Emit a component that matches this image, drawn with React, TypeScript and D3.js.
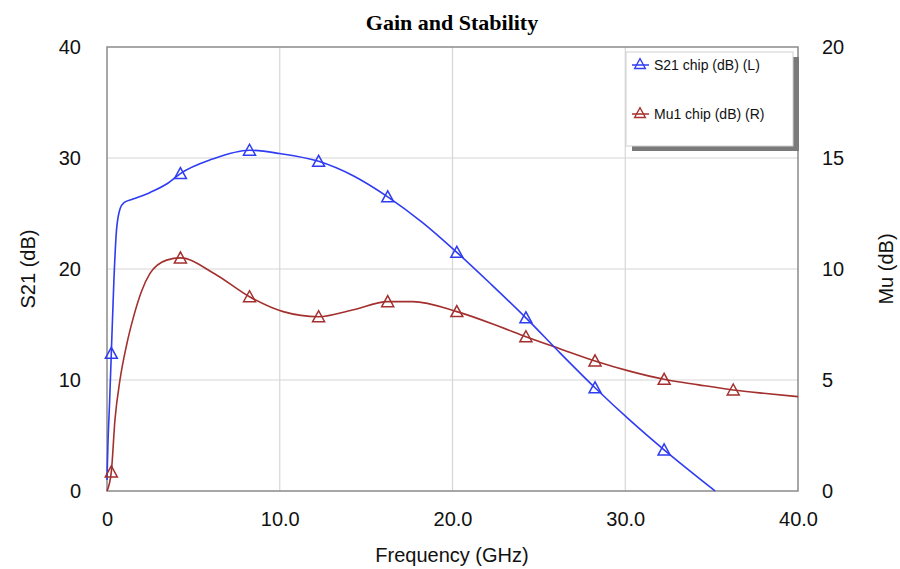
import * as d3 from "d3";
import { useEffect, useRef } from "react";

// S21 chip (dB), left axis
const freqS21 = [0, 0.05, 0.15, 0.25, 0.4, 0.55, 0.75, 1.0, 1.5, 2.5, 3.5, 4.25, 6.1, 8.25, 10, 12.25, 14.25, 16.25, 18.25, 20.25, 22.25, 24.25, 26.25, 28.25, 30.25, 32.25, 35.2];
const s21 = [1.0, 4, 8, 12.4, 19, 23.5, 25.4, 26.0, 26.3, 26.9, 27.7, 28.6, 29.9, 30.7, 30.4, 29.7, 28.4, 26.5, 24.2, 21.5, 18.6, 15.6, 12.4, 9.3, 6.4, 3.7, 0];

// Mu1 chip (dB), right axis
const freqMu = [0, 0.25, 0.46, 0.75, 1.14, 1.52, 2.0, 2.49, 3.45, 4.25, 6.2, 8.25, 10.2, 12.25, 14.2, 16.25, 17.7, 20.25, 22.75, 24.25, 26.25, 28.25, 30.25, 32.25, 34.25, 36.25, 38, 40];
const mu = [0, 0.86, 3.2, 5.0, 6.6, 7.8, 9.0, 9.8, 10.4, 10.5, 9.8, 8.75, 8.08, 7.85, 8.15, 8.53, 8.53, 8.08, 7.4, 6.95, 6.4, 5.86, 5.4, 5.03, 4.78, 4.55, 4.4, 4.25];

const markerFreqs = [0.25, 4.25, 8.25, 12.25, 16.25, 20.25, 24.25, 28.25, 32.25, 36.25];
const xTicks = [0, 10, 20, 30, 40];
const leftTicks = [0, 10, 20, 30, 40];
const rightTicks = [0, 5, 10, 15, 20];

const blue = "#2f3cf2";
const red = "#a3302e";
const tri = "M-6,5L0,-6L6,5Z";

export default function App() {
  const ref = useRef<SVGSVGElement>(null);

  useEffect(() => {
    const svg = d3.select(ref.current);
    svg.selectAll("*").remove();

    const x = d3.scaleLinear().domain([0, 40]).range([107, 798]);
    const yL = d3.scaleLinear().domain([0, 40]).range([491, 47]);
    const yR = d3.scaleLinear().domain([0, 20]).range([491, 47]);
    const font = "Liberation Sans, Arial, sans-serif";

    //gridlines
    const grid = svg.append("g");
    grid.selectAll("line.v").data(xTicks.slice(1, -1)).enter().append("line")
      .attr("x1", d => x(d)).attr("x2", d => x(d))
      .attr("y1", 47).attr("y2", 491)
      .attr("stroke", "#d6d6d6").attr("stroke-width", 1.2);
    grid.selectAll("line.h").data(leftTicks.slice(1, -1)).enter().append("line")
      .attr("y1", d => yL(d)).attr("y2", d => yL(d))
      .attr("x1", 107).attr("x2", 798)
      .attr("stroke", "#d6d6d6").attr("stroke-width", 1.2);

    //plot border
    svg.append("rect")
      .attr("x", 107).attr("y", 47).attr("width", 691).attr("height", 444)
      .attr("fill", "none").attr("stroke", "#8a8a8a").attr("stroke-width", 1.5);

    //axes without domain or ticks
    const tickFmt = (d: number) => (d === 0 ? "0" : d3.format(".1f")(d));
    const xAxis = svg.append("g").attr("transform", "translate(0,491)")
      .call(d3.axisBottom(x).tickValues(xTicks).tickSize(0).tickPadding(21).tickFormat(tickFmt as any));
    const lAxis = svg.append("g").attr("transform", "translate(107,0)")
      .call(d3.axisLeft(yL).tickValues(leftTicks).tickSize(0).tickPadding(26));
    const rAxis = svg.append("g").attr("transform", "translate(798,0)")
      .call(d3.axisRight(yR).tickValues(rightTicks).tickSize(0).tickPadding(24));
    [xAxis, lAxis, rAxis].forEach(a => {
      a.select(".domain").remove();
      a.selectAll("text").attr("font-family", font).attr("font-size", 20).attr("fill", "#111");
    });

    //lines
    const lineL = d3.line<number>().x((d, i) => x(freqS21[i])).y(d => yL(d)).curve(d3.curveMonotoneX);
    const lineR = d3.line<number>().x((d, i) => x(freqMu[i])).y(d => yR(d)).curve(d3.curveMonotoneX);
    svg.append("path").datum(mu).attr("d", lineR)
      .attr("fill", "none").attr("stroke", red).attr("stroke-width", 1.6);
    svg.append("path").datum(s21).attr("d", lineL)
      .attr("fill", "none").attr("stroke", blue).attr("stroke-width", 1.6);

    //markers
    const s21Marks = freqS21.map((f, i) => [f, s21[i]]).filter(p => markerFreqs.includes(p[0]));
    const muMarks = freqMu.map((f, i) => [f, mu[i]]).filter(p => markerFreqs.includes(p[0]));
    svg.append("g").selectAll("path").data(muMarks).enter().append("path")
      .attr("d", tri).attr("transform", d => `translate(${x(d[0])},${yR(d[1])})`)
      .attr("fill", "none").attr("stroke", red).attr("stroke-width", 1.5);
    svg.append("g").selectAll("path").data(s21Marks).enter().append("path")
      .attr("d", tri).attr("transform", d => `translate(${x(d[0])},${yL(d[1])})`)
      .attr("fill", "none").attr("stroke", blue).attr("stroke-width", 1.5);

    //legend
    const lg = svg.append("g");
    lg.append("rect").attr("x", 632).attr("y", 57).attr("width", 167).attr("height", 94).attr("fill", "#7a7a7a");
    lg.append("rect").attr("x", 626).attr("y", 52).attr("width", 167).attr("height", 94)
      .attr("fill", "#fff").attr("stroke", "#d0d0d0").attr("stroke-width", 1);
    const items = [
      { label: "S21 chip (dB) (L)", color: blue, y: 65 },
      { label: "Mu1 chip (dB) (R)", color: red, y: 114 },
    ];
    items.forEach(it => {
      lg.append("line").attr("x1", 632).attr("x2", 649).attr("y1", it.y).attr("y2", it.y)
        .attr("stroke", it.color).attr("stroke-width", 1.5);
      lg.append("path").attr("d", tri).attr("transform", `translate(640,${it.y - 1}) scale(0.9)`)
        .attr("fill", "none").attr("stroke", it.color).attr("stroke-width", 1.5);
      lg.append("text").attr("x", 654).attr("y", it.y + 5).text(it.label)
        .attr("font-family", font).attr("font-size", 14).attr("fill", "#111");
    });

    //titles
    svg.append("text").attr("x", 452).attr("y", 30).attr("text-anchor", "middle")
      .attr("font-family", "Liberation Serif, Times New Roman, serif").attr("font-weight", "bold")
      .attr("font-size", 22).text("Gain and Stability");
    svg.append("text").attr("x", 452).attr("y", 562).attr("text-anchor", "middle")
      .attr("font-family", font).attr("font-size", 20).attr("fill", "#111").text("Frequency (GHz)");
    svg.append("text").attr("transform", "translate(35,269) rotate(-90)").attr("text-anchor", "middle")
      .attr("font-family", font).attr("font-size", 20).attr("fill", "#111").text("S21 (dB)");
    svg.append("text").attr("transform", "translate(893,269) rotate(-90)").attr("text-anchor", "middle")
      .attr("font-family", font).attr("font-size", 20).attr("fill", "#111").text("Mu (dB)");
  }, []);

  return (
    <svg ref={ref} width={900} height={569}
      style={{ position: "absolute", left: 0, top: 0, background: "#fff" }} />
  );
}
